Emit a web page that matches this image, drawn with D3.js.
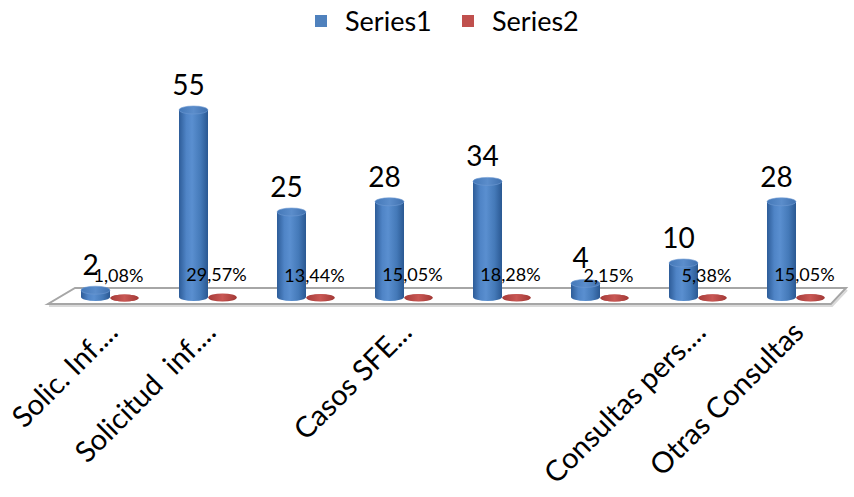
<!DOCTYPE html>
<html>
<head>
<meta charset="utf-8">
<script src="https://cdn.jsdelivr.net/npm/d3@7"></script>
<style>
  body { margin: 0; background: #fff; }
  svg { display: block; }
  text { font-family: Lato, "Open Sans", sans-serif; fill: #000; }
</style>
</head>
<body>
<svg id="chart" width="854" height="497"></svg>
<script>
// data
const tickLabels = ["Solic. Inf....", "Solicitud  inf....", "", "Casos SFE...", "", "", "Consultas pers....", "Otras Consultas"];
const seriesNames = ["Series1", "Series2"];
const series1 = [2, 55, 25, 28, 34, 4, 10, 28];
const series2 = [0.0108, 0.2957, 0.1344, 0.1505, 0.1828, 0.0215, 0.0538, 0.1505];
const colors = { Series1: "#4f81bd", Series2: "#c0504d" };

const svg = d3.select("#chart");
const defs = svg.append("defs");

const locale = d3.formatLocale({ decimal: ",", thousands: ".", grouping: [3], currency: ["", "€"] });
const pct = locale.format(".2%");

const idx = d3.range(series1.length);
const x = d3.scaleBand().domain(idx).range([46, 830]).padding(0);
const x1 = d3.scaleBand().domain(seriesNames).range([35, 93]);
const y = d3.scaleLinear().domain([0, 55]).range([297, 110]);

// gradients for cylinders
function grad(id, stops) {
  const g = defs.append("linearGradient").attr("id", id)
    .attr("x1", "0%").attr("x2", "100%").attr("y1", "0%").attr("y2", "0%");
  stops.forEach(s => g.append("stop").attr("offset", s[0]).attr("stop-color", s[1]));
}
grad("blueBody", [["0%", "#2d5c98"], ["25%", "#4f84c6"], ["45%", "#5a8fd0"], ["75%", "#4479b8"], ["100%", "#2a5892"]]);
grad("blueTop", [["0%", "#4478b8"], ["50%", "#5b8dcb"], ["100%", "#3f70ae"]]);
grad("redBody", [["0%", "#983330"], ["40%", "#c5514e"], ["100%", "#9a3431"]]);
grad("redTop", [["0%", "#a83c39"], ["50%", "#c85754"], ["100%", "#a43936"]]);

// floor
const fl = x.range()[0] + 2, fr = x.range()[1] + 1;
const floorPts = [[fl + 27, y(0) - 9], [fr + 15, y(0) - 9], [fr, y(0) + 7], [fl, y(0) + 7]];
svg.append("polyline")
  .attr("points", [[fl + 1, y(0) + 9], [fr + 1, y(0) + 9], [fr + 16, y(0) - 7]].map(p => p.join(",")).join(" "))
  .attr("fill", "none").attr("stroke", "#d9d9d9").attr("stroke-width", 2);
svg.append("polygon")
  .attr("points", floorPts.map(p => p.join(",")).join(" "))
  .attr("fill", "#fff").attr("stroke", "#a6a6a6").attr("stroke-width", 2);

// cylinders
const rows = [];
idx.forEach(i => {
  rows.push({ i, s: "Series1", v: series1[i] });
  rows.push({ i, s: "Series2", v: series2[i] });
});

const g = svg.append("g").selectAll("g").data(rows).join("g")
  .attr("transform", d => `translate(${x(d.i) + x1(d.s) + x1.bandwidth() / 2},0)`);

const rx = d => d.s === "Series1" ? x1.bandwidth() / 2 : 14;
const ry = d => d.s === "Series1" ? 4 : 3.5;
const dy = d => d.s === "Series1" ? 0 : 1;

g.append("ellipse")
  .attr("cx", 0).attr("cy", d => y(0) + dy(d)).attr("rx", rx).attr("ry", ry)
  .attr("fill", d => d.s === "Series1" ? "url(#blueBody)" : "url(#redBody)");
g.append("rect")
  .attr("x", d => -rx(d)).attr("width", d => rx(d) * 2)
  .attr("y", d => y(d.v) + dy(d)).attr("height", d => y(0) - y(d.v))
  .attr("fill", d => d.s === "Series1" ? "url(#blueBody)" : "url(#redBody)");
g.append("ellipse")
  .attr("cx", 0).attr("cy", d => y(d.v) + dy(d)).attr("rx", rx).attr("ry", ry)
  .attr("fill", d => d.s === "Series1" ? "url(#blueTop)" : "url(#redTop)")
  .attr("stroke", d => d.s === "Series1" ? "#6e9ad3" : "none").attr("stroke-width", 0.6);

// value labels
svg.append("g").selectAll("text").data(rows.filter(d => d.s === "Series1")).join("text")
  .attr("x", d => x(d.i) + x1("Series1") + x1.bandwidth() / 2 - 5)
  .attr("y", d => y(d.v) - 15)
  .attr("text-anchor", "middle").attr("font-size", 28)
  .text(d => d.v);

svg.append("g").selectAll("text").data(rows.filter(d => d.s === "Series2")).join("text")
  .attr("x", d => x(d.i) + x1("Series2") + x1.bandwidth() / 2 - 6)
  .attr("y", d => y(d.v) - 15)
  .attr("text-anchor", "middle").attr("font-size", 18)
  .text(d => pct(d.v));

// category labels
svg.append("g").selectAll("text").data(idx.filter(i => tickLabels[i])).join("text")
  .attr("transform", i => `translate(${x(i) + x.step() * 0.75},334) rotate(-45)`)
  .attr("text-anchor", "end").attr("font-size", 29)
  .attr("xml:space", "preserve")
  .text(i => tickLabels[i]);

// legend
const leg = svg.append("g").selectAll("g").data(seriesNames).join("g")
  .attr("transform", (d, i) => `translate(${315 + i * 147},15)`);
leg.append("rect").attr("width", 12).attr("height", 12).attr("fill", d => colors[d]);
leg.append("text").attr("x", 30).attr("y", 16).attr("font-size", 27).text(d => d);
</script>
</body>
</html>
